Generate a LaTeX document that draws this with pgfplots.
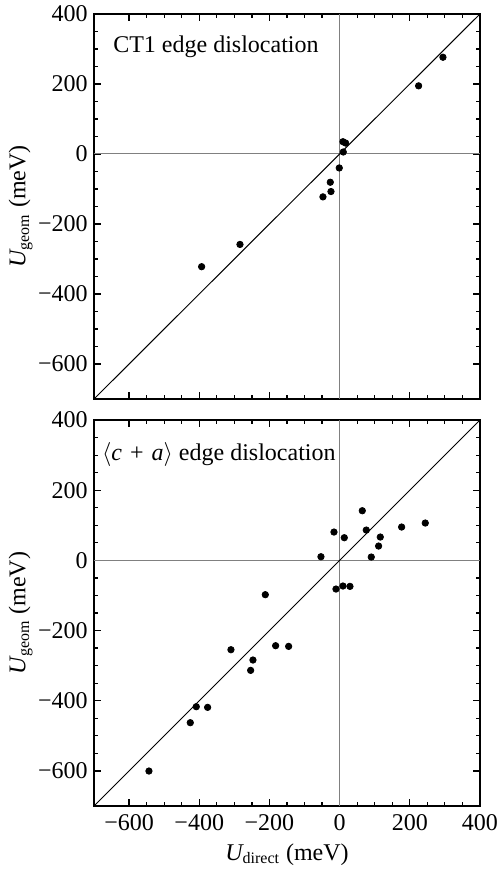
\documentclass[border=0pt]{standalone}
\usepackage{fontspec}
\setmainfont{Liberation Serif}
\usepackage{pgfplots}
\pgfplotsset{compat=1.18}
\begin{document}
\fontsize{12}{14}\selectfont
\begin{tikzpicture}
\useasboundingbox (0,0) rectangle (248.5pt,434.5pt);
\pgfplotsset{
  myaxis/.style={
    scale only axis, width=193pt, height=192.5pt,
    xmin=-700, xmax=400, ymin=-700, ymax=400,
    xtick={-600,-400,-200,0,200,400},
    ytick={-600,-400,-200,0,200,400},
    minor tick num=3,
    tick align=inside,
    major tick length=3.5pt, minor tick length=2pt,
    axis line style={line width=1pt},
    every tick/.style={line width=0.6pt, black},
    yticklabels={−600,−400,−200,0,200,400},
    tick label style={font=\fontsize{12}{14}\selectfont},
    yticklabel style={xshift=1pt},
    ylabel={{\itshape U}\textsubscript{geom} (meV)},
    every axis y label/.style={at={(axis description cs:-0.19,0.5)}, rotate=90, anchor=center, font=\fontsize{12}{14}\selectfont},
    every axis x label/.style={at={(axis description cs:0.5,-0.14)}, anchor=base, font=\fontsize{12}{14}\selectfont},
  },
  dots/.style={only marks, mark=*, mark size=1.6pt, black},
}
% ---------- top panel ----------
\begin{axis}[myaxis, at={(47pt,235pt)}, anchor=south west, xticklabels={}]
  \addplot[gray, line width=0.5pt] coordinates {(-700,0) (400,0)};
  \addplot[gray, line width=0.5pt] coordinates {(0,-700) (0,400)};
  \addplot[black, line width=0.5pt] coordinates {(-700,-700) (400,400)};
  \addplot[dots] coordinates {
    (294.5,276.4) (225.1,194.7) (9.5,35.1) (17.1,31.3) (10.4,5.7)
    (-1,-39.9) (-26.6,-80.7) (-24.7,-107.3) (-47.5,-122.5)
    (-284,-258.4) (-393.3,-322)
  };
  \node[anchor=base west, inner sep=0pt, font=\fontsize{12}{14}\selectfont] at (rel axis cs:0.049,0.899) {CT1 edge dislocation};
\end{axis}
% ---------- bottom panel ----------
\begin{axis}[myaxis, at={(47pt,31.5pt)}, anchor=south west,
  height=193pt,
  xticklabels={−600,−400,−200,0,200,400},
  xlabel={{\itshape U}\textsubscript{direct} (meV)}]
  \addplot[gray, line width=0.5pt] coordinates {(-700,0) (400,0)};
  \addplot[gray, line width=0.5pt] coordinates {(0,-700) (0,400)};
  \addplot[black, line width=0.5pt] coordinates {(-700,-700) (400,400)};
  \addplot[dots] coordinates {
    (-543.4,-600.4) (-425.6,-462.6) (-408.5,-417) (-376.2,-418.9)
    (-309.7,-254.6) (-253.6,-313.5) (-247,-284) (-211.8,-97.8)
    (-182.4,-243.2) (-145.3,-245.1) (-53.2,10.4) (-16.1,80.7)
    (13.3,64.6) (-10.4,-81.7) (9.5,-73.1) (29.4,-74.1)
    (64.6,141.5) (76,86.4) (115.9,66.5) (111.1,40.8) (90.2,9.5)
    (176.7,95) (244.1,106.4)
  };
  \node[anchor=base west, inner sep=0pt, font=\fontsize{12}{14}\selectfont] at (rel axis cs:0.02,0.894) {$\langle$\textit{c}\,\,+\,\,\textit{a}$\rangle$ edge dislocation};
\end{axis}
\end{tikzpicture}
\end{document}
